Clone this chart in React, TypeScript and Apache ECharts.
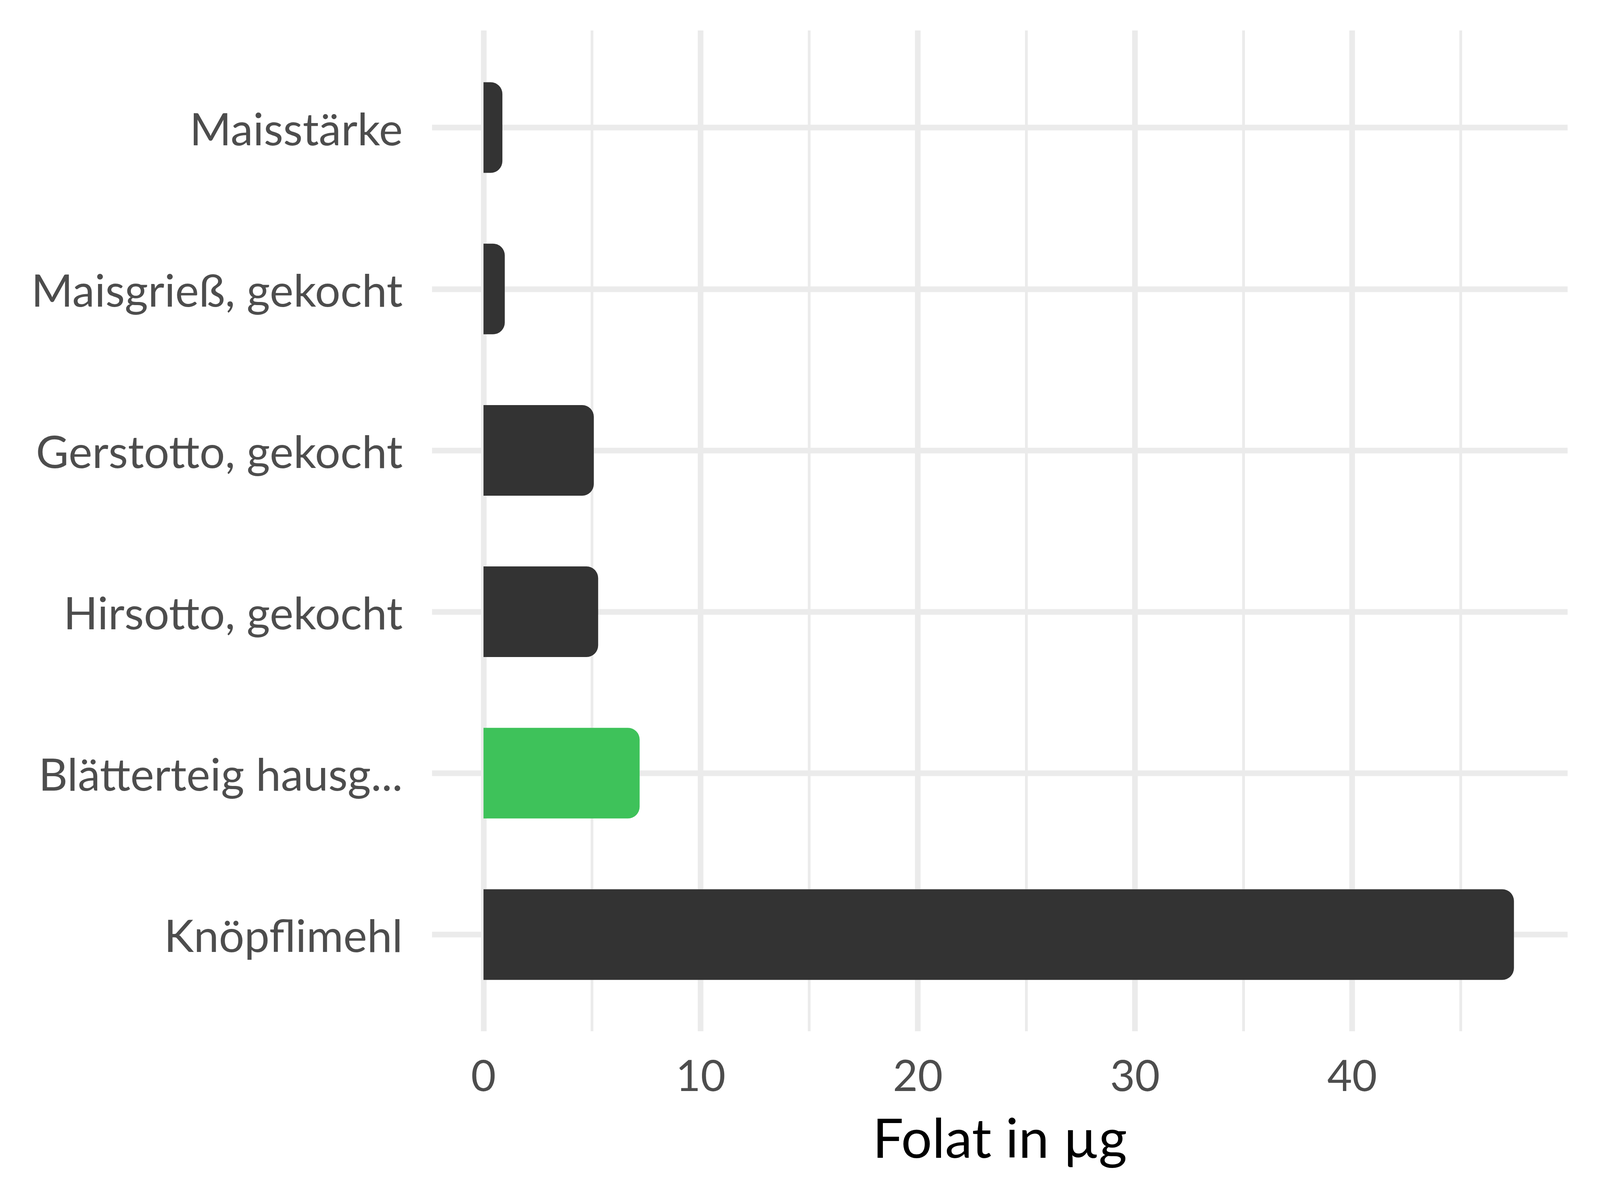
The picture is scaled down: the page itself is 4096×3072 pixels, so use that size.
import React, { useEffect, useRef } from "react";
import * as echarts from "echarts";

const categories = [
  "Maisstärke",
  "Maisgrieß, gekocht",
  "Gerstotto, gekocht",
  "Hirsotto, gekocht",
  "Blätterteig hausg...",
  "Knöpflimehl",
];
const values = [0.87, 0.98, 5.08, 5.28, 7.19, 47.45];
const barColors = ["#333333", "#333333", "#333333", "#333333", "#3EC25A", "#333333"];
const xTickLabels = [0, 10, 20, 30, 40];
const xMajorGrid = [10, 20, 30, 40];
const xMinorGrid = [5, 15, 25, 35, 45];
const axisTitle = "Folat in µg";

const W = 4096;
const H = 3072;
const X_MIN = -2.37;
const X_MAX = 49.92;
const LEFT = 1106;
const RIGHT = W - 4013;
const PLOT_TOP = 78;
const PLOT_BOTTOM = H - 2640;
const CAT_TOP = 120;
const CAT_BOTTOM = H - 2599;
const FONT = "Lato";
const GRID_COLOR = "#EBEBEB";

export default function App() {
  const ref = useRef<HTMLDivElement>(null);
  useEffect(() => {
    if (!ref.current) return;
    const chart = echarts.init(ref.current, null, { renderer: "svg" });
    const lineOff = { show: false };
    chart.setOption({
      animation: false,
      backgroundColor: "#ffffff",
      grid: [
        { left: LEFT, right: RIGHT, top: PLOT_TOP, bottom: PLOT_BOTTOM, containLabel: false },
        { left: LEFT, right: RIGHT, top: CAT_TOP, bottom: CAT_BOTTOM, containLabel: false },
      ],
      xAxis: [
        {
          type: "value",
          gridIndex: 0,
          min: X_MIN,
          max: X_MAX,
          axisLine: lineOff,
          axisTick: { show: false, customValues: xTickLabels },
          splitLine: lineOff,
          axisLabel: {
            customValues: xTickLabels,
            fontFamily: FONT,
            fontSize: 110,
            color: "#4D4D4D",
            margin: 55,
          },
          name: axisTitle,
          nameLocation: "middle",
          nameGap: 200,
          nameTextStyle: { fontFamily: FONT, fontSize: 140, color: "#000000" },
        },
        {
          type: "value",
          gridIndex: 1,
          min: X_MIN,
          max: X_MAX,
          show: false,
          splitLine: lineOff,
        },
      ],
      yAxis: [
        {
          type: "value",
          gridIndex: 0,
          min: 0.4,
          max: 6.6,
          show: false,
          splitLine: lineOff,
        },
        {
          type: "category",
          gridIndex: 1,
          data: categories,
          inverse: true,
          axisLine: lineOff,
          axisTick: lineOff,
          splitLine: lineOff,
          axisLabel: {
            fontFamily: FONT,
            fontSize: 115,
            color: "#4D4D4D",
            margin: 75,
          },
        },
      ],
      series: [
        {
          type: "line",
          xAxisIndex: 0,
          yAxisIndex: 0,
          data: [],
          z: 1,
          silent: true,
          markLine: {
            z: 1,
            silent: true,
            symbol: ["none", "none"],
            label: { show: false },
            animation: false,
            data: [
              ...xMinorGrid.map((v) => ({ xAxis: v, lineStyle: { color: GRID_COLOR, width: 7, type: "solid" } })),
              ...xMajorGrid.map((v) => ({ xAxis: v, lineStyle: { color: GRID_COLOR, width: 14.5, type: "solid" } })),
            ],
          },
        },
        {
          type: "line",
          xAxisIndex: 1,
          yAxisIndex: 1,
          data: [],
          z: 1,
          silent: true,
          markLine: {
            z: 1,
            silent: true,
            symbol: ["none", "none"],
            label: { show: false },
            animation: false,
            data: categories.map((c) => ({ yAxis: c, lineStyle: { color: GRID_COLOR, width: 14.5, type: "solid" } })),
          },
        },
        {
          type: "bar",
          xAxisIndex: 1,
          yAxisIndex: 1,
          data: values,
          barWidth: 232,
          barGap: "-100%",
          z: 2,
          silent: true,
          itemStyle: {
            color: "#ffffff",
            borderColor: "#ffffff",
            borderWidth: 30,
            borderRadius: [0, 30, 30, 0],
          },
        },
        {
          type: "line",
          xAxisIndex: 0,
          yAxisIndex: 0,
          data: [],
          z: 3,
          silent: true,
          markLine: {
            z: 3,
            silent: true,
            symbol: ["none", "none"],
            label: { show: false },
            animation: false,
            data: [{ xAxis: 0, lineStyle: { color: GRID_COLOR, width: 14.5, type: "solid" } }],
          },
        },
        {
          type: "bar",
          xAxisIndex: 1,
          yAxisIndex: 1,
          data: values.map((v, i) => ({ value: v, itemStyle: { color: barColors[i] } })),
          barWidth: 232,
          barGap: "-100%",
          z: 4,
          itemStyle: { borderRadius: [0, 30, 30, 0] },
        },
      ],
    });
    return () => chart.dispose();
  }, []);
  return (
    <div
      ref={ref}
      style={{ position: "fixed", left: 0, top: 0, width: W, height: H, background: "#fff" }}
    />
  );
}
